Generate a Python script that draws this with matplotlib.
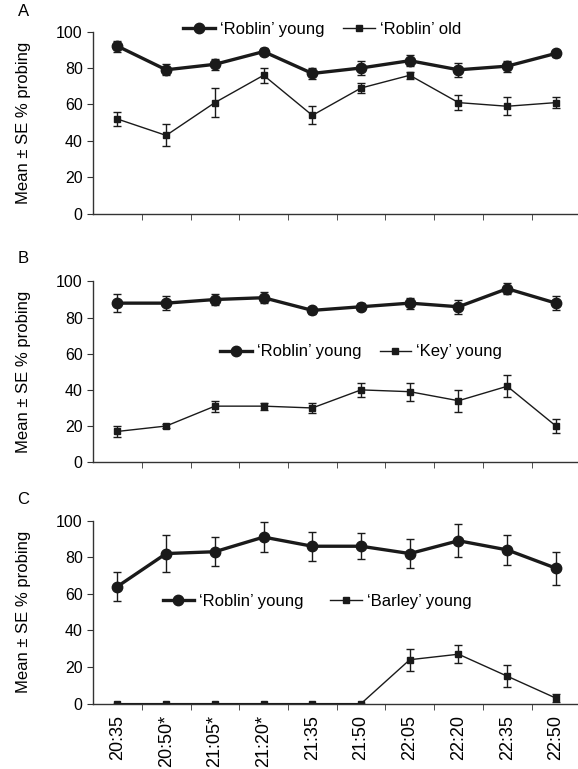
"""probing activity by time of day, three cultivar comparisons"""
import matplotlib
matplotlib.use("Agg")
import matplotlib.pyplot as plt
from matplotlib.lines import Line2D
import numpy as np

plt.rcParams["font.family"] = ["Liberation Sans", "DejaVu Sans"]

times = ["20:35", "20:50*", "21:05*", "21:20*", "21:35",
         "21:50", "22:05", "22:20", "22:35", "22:50"]

# panel A
roblin_young_a = [92, 79, 82, 89, 77, 80, 84, 79, 81, 88]
roblin_young_a_se = [3, 3, 3, 2, 3, 4, 3, 4, 3, 2]
roblin_old = [52, 43, 61, 76, 54, 69, 76, 61, 59, 61]
roblin_old_se = [4, 6, 8, 4, 5, 3, 2, 4, 5, 3]

# panel B
roblin_young_b = [88, 88, 90, 91, 84, 86, 88, 86, 96, 88]
roblin_young_b_se = [5, 4, 3, 3, 2, 2, 3, 4, 3, 4]
key_young = [17, 20, 31, 31, 30, 40, 39, 34, 42, 20]
key_young_se = [3, 1, 3, 2, 3, 4, 5, 6, 6, 4]

# panel C
roblin_young_c = [64, 82, 83, 91, 86, 86, 82, 89, 84, 74]
roblin_young_c_se = [8, 10, 8, 8, 8, 7, 8, 9, 8, 9]
barley_young = [0, 0, 0, 0, 0, 0, 24, 27, 15, 3]
barley_young_se = [0, 0, 0, 0, 0, 0, 6, 5, 6, 2]

panels = [
    ("A", roblin_young_a, roblin_young_a_se, "\u2018Roblin\u2019 old", roblin_old, roblin_old_se),
    ("B", roblin_young_b, roblin_young_b_se, "\u2018Key\u2019 young", key_young, key_young_se),
    ("C", roblin_young_c, roblin_young_c_se, "\u2018Barley\u2019 young", barley_young, barley_young_se),
]

# axes boxes [left, bottom, width, height] and legend placement
boxes = [[0.161, 0.722, 0.843, 0.237],
         [0.161, 0.399, 0.843, 0.235],
         [0.161, 0.085, 0.843, 0.238]]
legend_pos = [(0.47, 1.01, 1.1), (0.55, 0.61, 1.1), (0.46, 0.557, 1.6)]
letter_y = [0.985, 0.664, 0.351]

fig = plt.figure(figsize=(5.78, 7.69), dpi=100)
x = np.arange(len(times))
ink = "#1a1a1a"

for i, (letter, ry, rse, name2, y2, se2) in enumerate(panels):
    ax = fig.add_axes(boxes[i])
    ax.errorbar(x, ry, yerr=rse, color=ink, lw=2.4, marker="o", ms=7.5,
                elinewidth=1, capsize=3, capthick=1)
    ax.errorbar(x, y2, yerr=se2, color=ink, lw=1, marker="s", ms=4.5,
                elinewidth=1, capsize=3, capthick=1)

    ax.set_xlim(-0.5, 9.5)
    ax.set_ylim(0, 100)
    ax.set_yticks([0, 20, 40, 60, 80, 100])
    ax.set_xticks(x)
    ax.set_xticks(np.arange(0.5, 9.5, 1), minor=True)
    ax.tick_params(axis="x", which="major", length=0, pad=8, labelsize=13)
    ax.tick_params(axis="x", which="minor", length=4, direction="out", color="#333333")
    ax.tick_params(axis="y", length=4, direction="out", labelsize=11.5, color="#333333")
    if letter == "C":
        ax.set_xticklabels(times, rotation=90, va="top", ha="center")
    else:
        ax.set_xticklabels([])

    for side in ["top", "right"]:
        ax.spines[side].set_visible(False)
    for side in ["left", "bottom"]:
        ax.spines[side].set_color("#333333")
        ax.spines[side].set_linewidth(1)

    ax.set_ylabel("Mean \u00b1 SE % probing", fontsize=12)
    ax.yaxis.set_label_coords(-0.128, 0.5)

    # legend handles without the error bars
    handles = [Line2D([], [], color=ink, lw=2.4, marker="o", ms=7.5),
               Line2D([], [], color=ink, lw=1, marker="s", ms=4.5)]
    lx, ly, cs = legend_pos[i]
    ax.legend(handles, ["\u2018Roblin\u2019 young", name2], loc="center",
              bbox_to_anchor=(lx, ly), ncol=2, frameon=False,
              fontsize=12, handlelength=1.9, handletextpad=0.3, columnspacing=cs,
              borderaxespad=0, borderpad=0)

    fig.text(0.04, letter_y[i], letter, fontsize=12, ha="center", va="center")

fig.savefig("out.png", dpi=100)
